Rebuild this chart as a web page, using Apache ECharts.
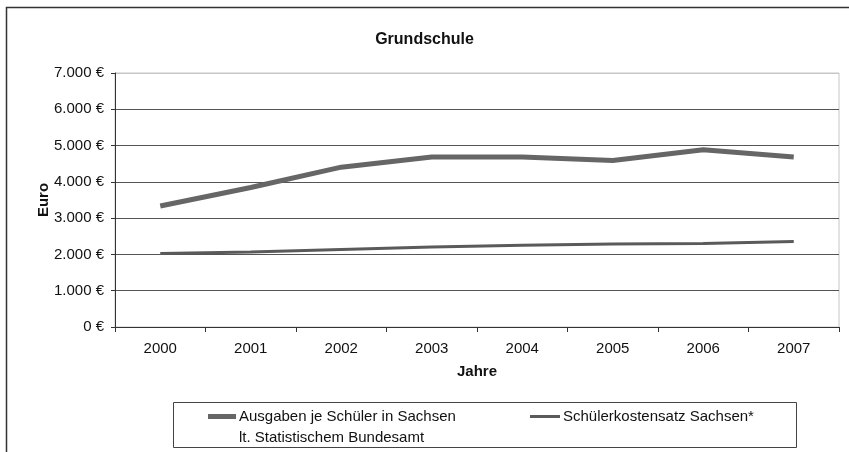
<!DOCTYPE html>
<html>
<head>
<meta charset="utf-8">
<script src="https://cdn.jsdelivr.net/npm/echarts@6/dist/echarts.min.js"></script>
<style>html,body{margin:0;padding:0;background:#fff}#c{width:849px;height:452px}</style>
</head>
<body>
<div id="c"></div>
<script>
var years = ['2000','2001','2002','2003','2004','2005','2006','2007'];
var ausgaben = [3335, 3845, 4405, 4685, 4685, 4590, 4885, 4685];
var kostensatz = [2025, 2065, 2135, 2205, 2255, 2290, 2300, 2355];
var seriesNames = ['Ausgaben je Schüler in Sachsen', 'Schülerkostensatz Sachsen*'];
var legendSecondLine = 'lt. Statistischem Bundesamt';
var titleText = 'Grundschule';

var FONT = '"Liberation Sans", Arial, sans-serif';
var chart = echarts.init(document.getElementById('c'), null, {renderer: 'canvas'});
var gridColors = ['#555','#555','#555','#555','#555','#555','#555','#c6c6c6'];
chart.setOption({
  animation: false,
  backgroundColor: '#fff',
  textStyle: {fontFamily: FONT},
  title: {
    text: titleText, left: 'center', top: 32, padding: 0,
    textStyle: {fontFamily: FONT, fontSize: 16, fontWeight: 'bold', color: '#111'}
  },
  grid: {left: 115, right: 10, top: 73, bottom: 125, show: true, borderColor: '#c6c6c6', borderWidth: 1},
  legend: [
    {data: [{name: seriesNames[0], icon: 'rect'}], left: 208, top: 409, itemWidth: 28, itemHeight: 5, itemGap: 0,
     padding: 0, textStyle: {fontFamily: FONT, fontSize: 15, color: '#111', padding: [0,0,0,-2]}},
    {data: [{name: seriesNames[1], icon: 'rect'}], left: 530, top: 409, itemWidth: 30, itemHeight: 3, itemGap: 0,
     padding: 0, textStyle: {fontFamily: FONT, fontSize: 15, color: '#111', padding: [0,0,0,-2]}}
  ],
  xAxis: {
    type: 'category', data: years, boundaryGap: true,
    name: 'Jahre', nameLocation: 'middle', nameGap: 37, nameMoveOverlap: false,
    nameTextStyle: {fontFamily: FONT, fontSize: 15, fontWeight: 'bold', color: '#111'},
    axisLine: {lineStyle: {color: '#333', width: 1}},
    axisTick: {show: true, length: 5, lineStyle: {color: '#333'}},
    axisLabel: {margin: 14, fontFamily: FONT, fontSize: 15, color: '#111'},
    splitLine: {show: false}
  },
  yAxis: {
    type: 'value', min: 0, max: 7000, interval: 1000,
    name: 'Euro', nameLocation: 'middle', nameGap: 64, nameRotate: 90, nameMoveOverlap: false,
    nameTextStyle: {fontFamily: FONT, fontSize: 15, fontWeight: 'bold', color: '#111'},
    axisLine: {show: true, lineStyle: {color: '#333', width: 1}},
    axisTick: {show: true, length: 4, lineStyle: {color: '#333'}},
    axisLabel: {margin: 11, fontFamily: FONT, fontSize: 15, color: '#111',
      formatter: function (v) { return String(v).replace(/\B(?=(\d{3})+(?!\d))/g, '.') + ' €'; }},
    splitLine: {show: true, lineStyle: {color: gridColors, width: 1}}
  },
  series: [
    {name: seriesNames[0], type: 'line', data: ausgaben, symbol: 'none',
     lineStyle: {color: '#666', width: 5}, itemStyle: {color: '#666'}},
    {name: seriesNames[1], type: 'line', data: kostensatz, symbol: 'none',
     lineStyle: {color: '#5a5a5a', width: 3}, itemStyle: {color: '#5a5a5a'}}
  ],
  graphic: [
    {type: 'rect', silent: true, shape: {x: 6.5, y: 7.5, width: 860, height: 460},
     style: {fill: null, stroke: '#333', lineWidth: 1.5}},
    {type: 'rect', silent: true, shape: {x: 173.5, y: 402.5, width: 623, height: 45},
     style: {fill: null, stroke: '#444', lineWidth: 1}},
    {type: 'text', silent: true, left: 239, top: 430,
     style: {text: legendSecondLine, font: '15px ' + FONT, fill: '#111'}}
  ]
});
</script>
</body>
</html>
